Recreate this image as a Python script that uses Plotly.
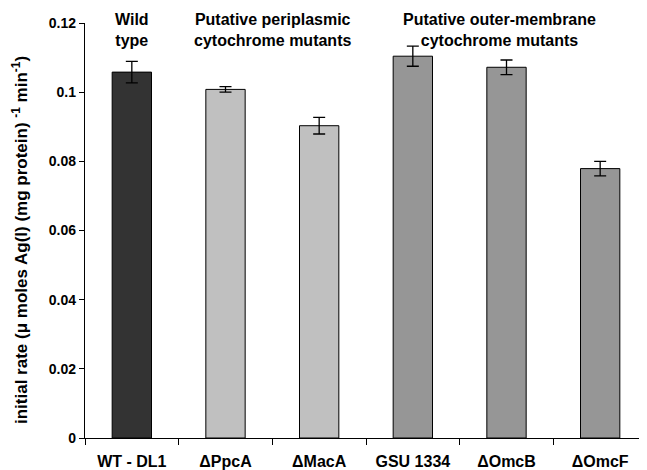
import plotly.graph_objects as go

categories = ["WT - DL1", "ΔPpcA", "ΔMacA", "GSU 1334", "ΔOmcB", "ΔOmcF"]
rates = [0.1058, 0.1008, 0.0903, 0.1104, 0.1072, 0.0779]
errors = [0.0031, 0.0008, 0.0024, 0.0029, 0.0021, 0.0021]
groups = ["wild", "peri", "peri", "outer", "outer", "outer"]
group_colors = {"wild": "#333333", "peri": "#c0c0c0", "outer": "#969696"}
y_ticks = [0, 0.02, 0.04, 0.06, 0.08, 0.1, 0.12]
y_tick_labels = ["0", "0.02", "0.04", "0.06", "0.08", "0.1", "0.12"]

FONT = "Liberation Sans, Arial, sans-serif"

fig = go.Figure()
fig.add_trace(go.Bar(
    x=categories,
    y=rates,
    width=0.42,
    marker=dict(color=[group_colors[g] for g in groups],
                line=dict(color="#000000", width=1)),
    error_y=dict(type="data", array=errors, visible=True,
                 color="#000000", thickness=1.3, width=6),
    showlegend=False,
))

# group annotations (x in category units)
group_labels = [
    ("<b>Wild<br>type</b>", 0.0),
    ("<b>Putative periplasmic<br>cytochrome mutants</b>", 1.5),
    ("<b>Putative outer-membrane<br>cytochrome mutants</b>", 3.93),
]
for text, xpos in group_labels:
    fig.add_annotation(x=xpos, xref="x", y=0.982, yref="paper",
                       text=text, showarrow=False, xanchor="center",
                       yanchor="middle", align="center",
                       font=dict(family=FONT, size=16, color="#000000"))

fig.add_annotation(x=-0.1157, xref="paper", y=0.477, yref="paper",
                   text="<b>initial rate (μ moles Ag(I) (mg protein) <sup>-1</sup> min<sup>-1</sup>)</b>",
                   textangle=-90, showarrow=False, xanchor="center", yanchor="middle",
                   font=dict(family=FONT, size=17, color="#000000"))

# page body has an 8px default margin; compensate so the plot sits where the reference has it
fig.update_layout(
    width=639, height=462,
    margin=dict(l=77, r=0, t=15, b=32, autoexpand=False),
    paper_bgcolor="white", plot_bgcolor="white",
    font=dict(family=FONT, color="#000000"),
    bargap=0.58,
)
fig.update_xaxes(
    type="category",
    tickson="boundaries",
    automargin=False,
    ticks="outside", ticklen=6, tickcolor="#000000", tickwidth=1.3,
    showline=True, linecolor="#000000", linewidth=1.3,
    showgrid=False,
    tickfont=dict(family=FONT, size=16, color="#000000"),
    ticklabelstandoff=9,
    tickprefix="<b>", ticksuffix="</b>",
)
fig.update_yaxes(
    range=[0, 0.12],
    automargin=False,
    tickvals=y_ticks, ticktext=["<b>%s</b>" % t for t in y_tick_labels],
    ticks="outside", ticklen=5, tickcolor="#000000", tickwidth=1.3,
    showline=True, linecolor="#000000", linewidth=1.3,
    showgrid=False, zeroline=False,
    tickfont=dict(family=FONT, size=14, color="#000000"),
)

fig.write_html("out.html")
